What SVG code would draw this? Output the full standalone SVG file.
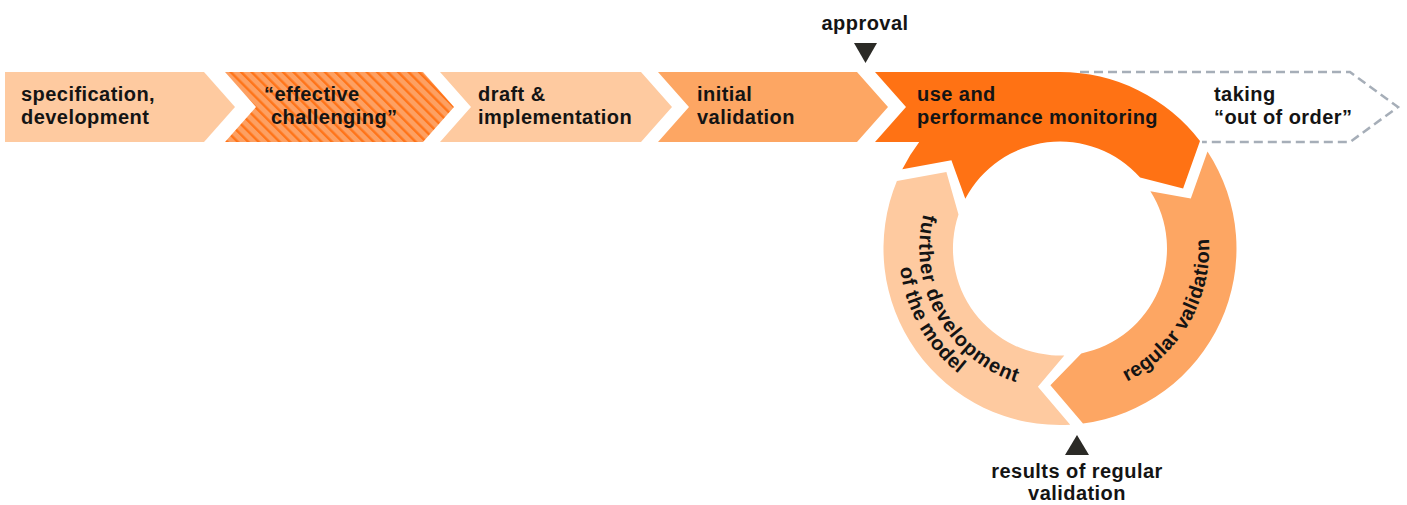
<svg xmlns="http://www.w3.org/2000/svg" width="1407" height="505" viewBox="0 0 1407 505">
  <style>
    text { font-family: "Liberation Sans", Arial, Helvetica, sans-serif; font-weight: bold; font-size: 20px; fill: #141414; letter-spacing: 0.45px; }
    .centered { text-anchor: middle; }
    .wide { letter-spacing: 1px; }
    .light { fill: #FECAA0; }
    .mid { fill: #FDA663; }
    .hot { fill: #FF7214; }
    .hatched { fill: url(#hatch); }
    .pointer { fill: #2B2A26; }
    .outline { fill: none; stroke: #A6AEB8; stroke-width: 2.5; stroke-dasharray: 9 5; }
  </style>
  <defs>
    <!-- diagonal stripes for the "effective challenging" phase -->
    <pattern id="hatch" patternUnits="userSpaceOnUse" width="7.4" height="10" patternTransform="rotate(-45)">
      <rect width="7.4" height="10" fill="#FDA062"/>
      <rect width="2.4" height="10" fill="#FF7419"/>
    </pattern>
    <!-- text baselines around the cycle (centre 1060,248.5), drawn counter-clockwise -->
    <path id="arc-dev-1" d="M981.2,131.6 A141,141 0 0 0 1117.3,377.3"/>
    <path id="arc-dev-2" d="M970.0,115.0 A161,161 0 0 0 1125.5,395.6"/>
    <path id="arc-val" d="M997.7,383.9 A149,149 0 0 0 1144.8,126.0"/>
  </defs>

  <!-- end of life: dashed outline behind the cycle -->
  <g id="out-of-order">
    <path class="outline" d="M1080,72 H1350 L1398,107 L1350,142 H1202"/>
    <text x="1214" y="101">taking</text>
    <text x="1214" y="124">“out of order”</text>
  </g>

  <!-- linear phases -->
  <g id="specification">
    <path class="light" d="M5,72 H204 L235,107 L204,142 H5 Z"/>
    <text x="21" y="101">specification,</text>
    <text x="21" y="124">development</text>
  </g>
  <g id="effective-challenging">
    <path class="hatched" d="M225,72 H423 L454,107 L423,142 H225 L256,107 Z"/>
    <text x="264" y="101">“effective</text>
    <text x="271" y="124">challenging”</text>
  </g>
  <g id="draft-implementation">
    <path class="light" d="M440,72 H641 L672,107 L641,142 H440 L471,107 Z"/>
    <text x="478" y="101">draft &amp;</text>
    <text x="478" y="124">implementation</text>
  </g>
  <g id="initial-validation">
    <path class="mid" d="M658,72 H857 L888,107 L857,142 H658 L689,107 Z"/>
    <text x="697" y="101">initial</text>
    <text x="697" y="124">validation</text>
  </g>

  <!-- cycle -->
  <g id="regular-validation">
    <path class="mid" d="M1207.5,151.6 A176.5,176.5 0 0 1 1083.0,423.5 L1050.4,385.2 L1081.3,353.4 A107,107 0 0 0 1150.4,191.3 L1190.8,198.6 Z"/>
    <text><textPath href="#arc-val" startOffset="50%" text-anchor="middle">regular validation</textPath></text>
  </g>
  <g id="further-development">
    <path class="light" d="M1070.2,424.7 A176.5,176.5 0 0 1 896.9,181.0 L946.4,171.9 L958.5,214.5 A107,107 0 0 0 1064.3,355.4 L1037.9,386.7 Z"/>
    <text class="wide"><textPath href="#arc-dev-1" startOffset="50%" text-anchor="middle">further development</textPath></text>
    <text><textPath href="#arc-dev-2" startOffset="50%" text-anchor="middle">of the model</textPath></text>
  </g>
  <g id="use-monitoring">
    <path class="hot" d="M875,72 H1060 A176.5,176.5 0 0 1 1200.0,141.0 L1183.1,188.4 L1140.1,177.6 A107,107 0 0 0 965.3,198.8 L951.4,160.2 L902.3,169.2 A176.5,176.5 0 0 1 919.2,142 H875 L906,107 Z"/>
    <text x="917" y="101">use and</text>
    <text x="917" y="124">performance monitoring</text>
  </g>

  <!-- milestone pointers -->
  <g id="approval">
    <path class="pointer" d="M854,43 H877 L865.5,63 Z"/>
    <text class="centered" x="865" y="30">approval</text>
  </g>
  <g id="validation-results">
    <path class="pointer" d="M1065,455 H1089 L1077,435 Z"/>
    <text class="centered" x="1077" y="478">results of regular</text>
    <text class="centered" x="1077" y="500">validation</text>
  </g>
</svg>
